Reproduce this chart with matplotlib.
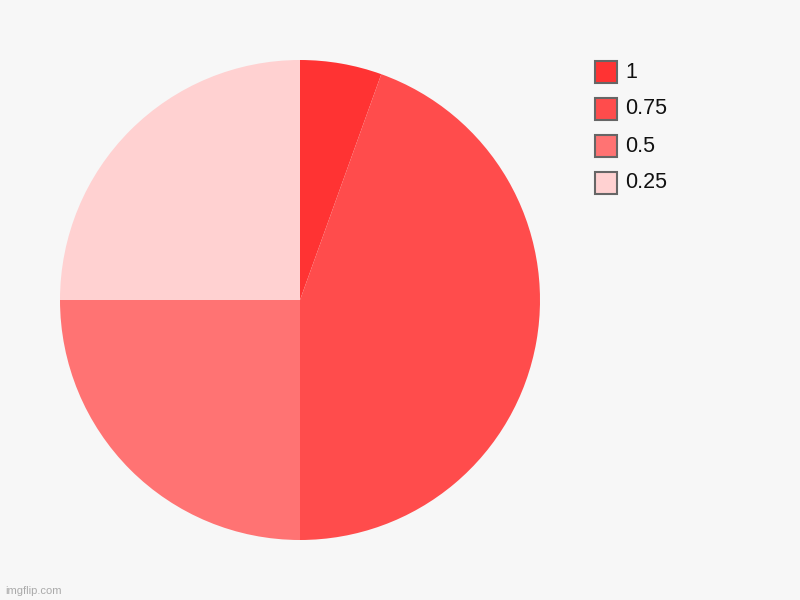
import matplotlib
matplotlib.use("Agg")
import matplotlib.pyplot as plt
from matplotlib.patches import Rectangle

labels = ["1", "0.75", "0.5", "0.25"]
shares = [5.5, 44.5, 25.0, 25.0]
colors = ["#ff3333", "#ff4c4c", "#ff7373", "#ffd1d1"]

W, H = 800, 600
plt.rcParams["font.family"] = ["Liberation Sans", "DejaVu Sans"]

fig = plt.figure(figsize=(W / 100, H / 100), dpi=100, facecolor="#f7f7f7")
ax = fig.add_axes([60 / W, 60 / H, 480 / W, 480 / H])
ax.set_facecolor("#f7f7f7")
ax.pie(shares, colors=colors, startangle=90, counterclock=False, radius=1,
       wedgeprops=dict(linewidth=0))
ax.set_xlim(-1, 1); ax.set_ylim(-1, 1)
ax.set_aspect("equal")
ax.axis("off")

# legend drawn by hand to match the pixel layout
for i, (lab, col) in enumerate(zip(labels, colors)):
    top = 61 + 37 * i
    fig.add_artist(Rectangle((595 / W, 1 - (top + 22) / H), 22 / W, 22 / H,
                             transform=fig.transFigure, facecolor=col,
                             edgecolor="#666666", linewidth=1.5))
    fig.text(625 / W, 1 - (top + 11) / H, lab, fontsize=15.5, va="center",
             ha="left", color="#111111")

fig.text(5 / W, 1 - 591 / H, "imgflip.com", fontsize=8, color="#aaaaaa",
         va="center", ha="left")

fig.savefig("out.png", dpi=100, facecolor=fig.get_facecolor())
